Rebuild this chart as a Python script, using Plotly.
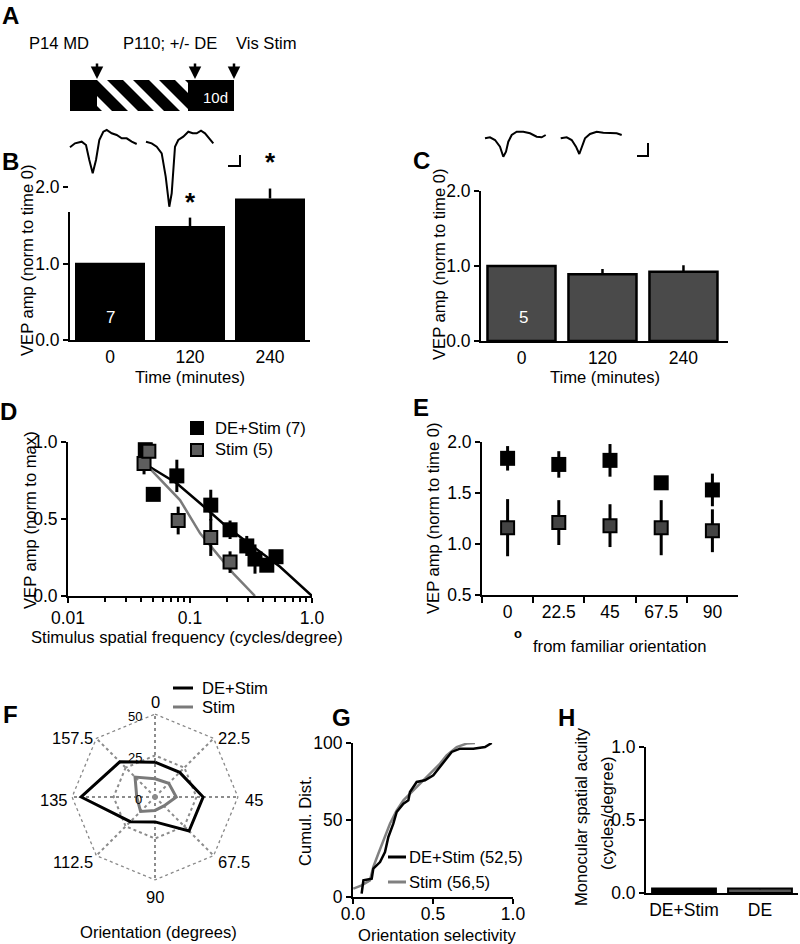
import plotly.graph_objects as go

W, H = 800, 944


def fx(p):
    return p / W


def fy(p):
    return 1 - p / H


# ---- data ----
TIME_LABELS = ["0", "120", "240"]
B_VEP = [1.01, 1.49, 1.85]
B_SEM = [0.0, 0.11, 0.13]
C_VEP = [1.0, 0.89, 0.925]
C_SEM = [0.0, 0.07, 0.085]

# example VEP traces (t in px-units from trace start, amplitude positive up)
B_WAVE1_T = [2, 7, 13.7, 18, 21.3, 24.7, 28, 31.3, 35.3, 38.7, 43.7, 48.7, 53.7, 58.7, 63.7, 68.7]
B_WAVE1_V = [-4.3, -0.3, 1.3, -2, -17, -30.3, -17, 3, 11.3, 13, 9.7, 8, 4.7, 4.7, 1.3, -1]
B_WAVE2_T = [78, 83.7, 88.7, 93.7, 97.7, 101.3, 103.7, 107, 110.3, 115.3, 120.3, 124.7, 128.7, 133, 137, 141.3, 145.3]
B_WAVE2_V = [1.3, -0.3, -3.7, -10.3, -33.7, -63.7, -50.3, -3.7, 3, 6.3, 11.3, 9.7, 9.7, 12.3, 9.7, 4.7, -0.3]
C_WAVE1_T = [2, 7, 12, 17, 20.3, 23, 25.3, 28.7, 33.7, 40.3, 47, 53.7, 58.7, 62.7]
C_WAVE1_V = [0, 1, -1.7, -8.4, -18.4, -13.4, -3.4, 3.3, 6.6, 6.6, 5, 1.6, 1, 3.3]
C_WAVE2_T = [77.7, 83.7, 88.7, 93, 96.3, 99.3, 102, 107, 113.7, 120.3, 127, 133.7, 138.7]
C_WAVE2_V = [0, 1, -1.7, -8.4, -15.7, -8.4, 0, 4.3, 6.6, 5.6, 5, 5, 3.3]

# D: spatial frequency tuning
SF_DE = [0.043, 0.050, 0.078, 0.148, 0.213, 0.292, 0.341, 0.426, 0.507]
VEP_DE = [0.95, 0.66, 0.78, 0.59, 0.43, 0.325, 0.24, 0.20, 0.255]
ERR_DE = [0.02, 0.03, 0.105, 0.10, 0.06, 0.065, 0.095, 0.04, 0.03]
SF_ST = [0.042, 0.046, 0.080, 0.148, 0.213]
VEP_ST = [0.86, 0.94, 0.49, 0.38, 0.22]
ERR_ST = [0.07, 0.02, 0.09, 0.12, 0.07]
FIT_DE_X = [0.0442, 0.0778, 0.121, 0.200, 0.330, 0.547, 1.0]
FIT_DE_Y = [0.851, 0.732, 0.602, 0.45, 0.320, 0.190, 0.0]
FIT_ST_X = [0.0414, 0.0828, 0.121, 0.226, 0.341]
FIT_ST_Y = [0.872, 0.623, 0.407, 0.147, 0.0]
SF_TICKS = [0.01, 0.1, 1.0]
SF_TICKTEXT = ["0.01", "0.1", "1.0"]
SF_MINOR = [0.02, 0.03, 0.04, 0.05, 0.06, 0.07, 0.08, 0.09,
            0.2, 0.3, 0.4, 0.5, 0.6, 0.7, 0.8, 0.9]

# E: orientation specificity
ORI_E = ["0", "22.5", "45", "67.5", "90"]
E_DE = [1.84, 1.78, 1.82, 1.60, 1.53]
E_DE_ERR = [0.12, 0.13, 0.16, 0.04, 0.16]
E_ST = [1.16, 1.21, 1.18, 1.16, 1.13]
E_ST_ERR = [0.28, 0.22, 0.21, 0.27, 0.21]

# F: polar orientation tuning
ORI_F = ["0", "22.5", "45", "67.5", "90", "112.5", "135", "157.5"]
F_DE = [21, 21, 29, 29, 15, 21, 44.5, 30]
F_ST = [11, 11.7, 12.8, 7.6, 8.1, 12.3, 11, 17]
F_RTICKS = [0, 25, 50]

# G: cumulative distribution of orientation selectivity
G_DE_X = [0.054, 0.065, 0.117, 0.127, 0.169, 0.2, 0.221, 0.252, 0.273, 0.315, 0.346, 0.356,
          0.398, 0.45, 0.502, 0.544, 0.585, 0.617, 0.669, 0.752, 0.825, 0.867]
G_DE_Y = [2.2, 10.8, 11.9, 18.4, 22.7, 29.2, 39, 47.6, 55.2, 60.6, 62.8, 68.2,
          74.7, 75.8, 79, 84.4, 89.8, 94.2, 96.3, 96.3, 97.4, 100]
G_ST_X = [0.002, 0.054, 0.106, 0.127, 0.158, 0.19, 0.231, 0.273, 0.315, 0.377, 0.44,
          0.502, 0.544, 0.585, 0.648, 0.71, 0.762]
G_ST_Y = [5.4, 7.6, 10.8, 19.5, 28.1, 36.8, 47.6, 56.3, 62.8, 69.3, 75.8,
          82.3, 86.6, 92, 97.4, 99.6, 100]

# H: monocular acuity
H_GROUPS = ["DE+Stim", "DE"]
H_ACUITY = [0.03, 0.03]
H_SEM = [0.004, 0.004]

BLACK = "black"
DARK = "#4a4a4a"
GREY_M = "#5e5e5e"
GREY_L = "#7a7a7a"
GRID = "#8c8c8c"

TICKFONT = dict(size=17.5, color="black")
TITLE = 16.6
AX = dict(showline=True, linecolor="black", linewidth=2, ticks="outside", ticklen=5,
          tickwidth=2, tickcolor="black", showgrid=False, zeroline=False,
          tickfont=TICKFONT, fixedrange=True)

fig = go.Figure()

# B bars
fig.add_trace(go.Bar(x=TIME_LABELS, y=B_VEP, width=0.875, marker=dict(color=BLACK, line=dict(width=0)),
                     error_y=dict(type="data", array=B_SEM, arrayminus=[0, 0, 0], symmetric=False,
                                  color=BLACK, thickness=2.5, width=0),
                     xaxis="x", yaxis="y"))
# C bars
fig.add_trace(go.Bar(x=TIME_LABELS, y=C_VEP, width=0.84, marker=dict(color=DARK, line=dict(color=BLACK, width=2.5)),
                     error_y=dict(type="data", array=C_SEM, arrayminus=[0, 0, 0], symmetric=False,
                                  color=BLACK, thickness=2.5, width=0),
                     xaxis="x2", yaxis="y2"))

# D
fig.add_trace(go.Scatter(x=FIT_DE_X, y=FIT_DE_Y, mode="lines", line=dict(color=BLACK, width=2.5),
                         xaxis="x3", yaxis="y3"))
fig.add_trace(go.Scatter(x=FIT_ST_X, y=FIT_ST_Y, mode="lines", line=dict(color=GREY_L, width=2.5),
                         xaxis="x3", yaxis="y3"))
fig.add_trace(go.Scatter(x=SF_DE, y=VEP_DE, mode="markers",
                         marker=dict(symbol="square", size=15, color=BLACK),
                         error_y=dict(type="data", array=ERR_DE, color=BLACK, thickness=3, width=0),
                         xaxis="x3", yaxis="y3"))
fig.add_trace(go.Scatter(x=SF_ST, y=VEP_ST, mode="markers",
                         marker=dict(symbol="square", size=13, color=GREY_M, line=dict(color=BLACK, width=2)),
                         error_y=dict(type="data", array=ERR_ST, color=BLACK, thickness=3, width=0),
                         xaxis="x3", yaxis="y3"))

# E
fig.add_trace(go.Scatter(x=ORI_E, y=E_DE, mode="markers",
                         marker=dict(symbol="square", size=15, color=BLACK),
                         error_y=dict(type="data", array=E_DE_ERR, color=BLACK, thickness=3, width=0),
                         xaxis="x4", yaxis="y4"))
fig.add_trace(go.Scatter(x=ORI_E, y=E_ST, mode="markers",
                         marker=dict(symbol="square", size=13, color="#444444", line=dict(color=BLACK, width=2)),
                         error_y=dict(type="data", array=E_ST_ERR, color=BLACK, thickness=3, width=0),
                         xaxis="x4", yaxis="y4"))

# F polar: outer dotted ring at r = 50, then the two tuning polygons
fig.add_trace(go.Scatterpolar(r=[F_RTICKS[-1]] * (len(ORI_F) + 1), theta=ORI_F + ORI_F[:1], mode="lines",
                              line=dict(color=GRID, width=1.5, dash="dot"), subplot="polar"))
fig.add_trace(go.Scatterpolar(r=F_DE + F_DE[:1], theta=ORI_F + ORI_F[:1], mode="lines",
                              line=dict(color=BLACK, width=3), subplot="polar"))
fig.add_trace(go.Scatterpolar(r=F_ST + F_ST[:1], theta=ORI_F + ORI_F[:1], mode="lines",
                              line=dict(color=GREY_L, width=3), subplot="polar"))

# G
fig.add_trace(go.Scatter(x=G_ST_X, y=G_ST_Y, mode="lines", line=dict(color="#808080", width=2.5),
                         xaxis="x5", yaxis="y5"))
fig.add_trace(go.Scatter(x=G_DE_X, y=G_DE_Y, mode="lines", line=dict(color=BLACK, width=2.5),
                         xaxis="x5", yaxis="y5"))

# H
fig.add_trace(go.Bar(x=H_GROUPS, y=H_ACUITY, width=0.84,
                     marker=dict(color=[BLACK, "#555555"], line=dict(color=BLACK, width=2)),
                     error_y=dict(type="data", array=H_SEM, color=BLACK, thickness=2, width=0),
                     xaxis="x6", yaxis="y6"))

# example traces
for t, v in [(B_WAVE1_T, B_WAVE1_V), (B_WAVE2_T, B_WAVE2_V)]:
    fig.add_trace(go.Scatter(x=t, y=v, mode="lines", line=dict(color=BLACK, width=2),
                             xaxis="x7", yaxis="y7"))
for t, v in [(C_WAVE1_T, C_WAVE1_V), (C_WAVE2_T, C_WAVE2_V)]:
    fig.add_trace(go.Scatter(x=t, y=v, mode="lines", line=dict(color=BLACK, width=2),
                             xaxis="x8", yaxis="y8"))

R_MAX = 50.5
F_CX, F_CY, F_R50 = 155, 797, 83
F_RAD = F_R50 * R_MAX / 50

layout = dict(
    width=W, height=H, margin=dict(l=0, r=0, t=0, b=0, autoexpand=False),
    paper_bgcolor="white", plot_bgcolor="white", showlegend=False,
    font=dict(family="Liberation Sans, Arial, Helvetica, sans-serif", color="black", size=16),
    bargap=0.1,
    xaxis=dict(AX, domain=[fx(70), fx(310)], range=[-0.5, 2.5], ticks="", anchor="y"),
    yaxis=dict(AX, domain=[fy(340), fy(187)], range=[0, 2], tickvals=[0, 1, 2],
               ticktext=["0.0", "1.0", "2.0"], anchor="x"),
    xaxis2=dict(AX, domain=[fx(481), fx(728)], range=[-0.5, 2.55], ticks="", anchor="y2"),
    yaxis2=dict(AX, domain=[fy(341), fy(191)], range=[0, 2], tickvals=[0, 1, 2],
                ticktext=["0.0", "1.0", "2.0"], anchor="x2"),
    xaxis3=dict(AX, type="log", domain=[fx(68), fx(312)], range=[-2, 0], tickvals=SF_TICKS,
                ticktext=SF_TICKTEXT, anchor="y3",
                minor=dict(tickvals=SF_MINOR, ticks="outside", ticklen=4, tickwidth=1.5, tickcolor="black")),
    yaxis3=dict(AX, domain=[fy(596), fy(442)], range=[0, 1], tickvals=[0, 0.5, 1],
                ticktext=["0.0", "0.5", "1.0"], anchor="x3"),
    xaxis4=dict(AX, type="category", categoryarray=ORI_E, domain=[fx(482), fx(738)],
                range=[-0.5, 4.5], tickson="boundaries", ticklen=6, anchor="y4"),
    yaxis4=dict(AX, domain=[fy(595), fy(442)], range=[0.5, 2.0], tickvals=[0.5, 1, 1.5, 2],
                ticktext=["0.5", "1.0", "1.5", "2.0"], anchor="x4"),
    xaxis5=dict(AX, domain=[fx(353), fx(513)], range=[0, 1], tickvals=[0, 0.5, 1],
                ticktext=["0.0", "0.5", "1.0"], ticklabelstandoff=-5, anchor="y5"),
    yaxis5=dict(AX, domain=[fy(897), fy(743)], range=[0, 100], tickvals=[0, 50, 100], anchor="x5"),
    xaxis6=dict(AX, domain=[fx(646), fx(798)], range=[-0.5, 1.5], ticks="", anchor="y6"),
    yaxis6=dict(AX, domain=[fy(893), fy(747)], range=[0, 1], tickvals=[0, 0.5, 1],
                ticktext=["0.0", "0.5", "1.0"], anchor="x6"),
    xaxis7=dict(visible=False, domain=[fx(68), fx(216)], range=[0, 148], anchor="y7", fixedrange=True),
    yaxis7=dict(visible=False, domain=[fy(212), fy(125)], range=[-69, 18], anchor="x7", fixedrange=True),
    xaxis8=dict(visible=False, domain=[fx(483), fx(625)], range=[0, 142], anchor="y8", fixedrange=True),
    yaxis8=dict(visible=False, domain=[fy(160), fy(125)], range=[-21.7, 13.3], anchor="x8", fixedrange=True),
    polar=dict(
        domain=dict(x=[fx(F_CX - F_RAD), fx(F_CX + F_RAD)], y=[fy(F_CY + F_RAD), fy(F_CY - F_RAD)]),
        gridshape="linear", bgcolor="white",
        radialaxis=dict(range=[0, R_MAX], tickvals=F_RTICKS, angle=90, showline=False,
                        showticklabels=False, ticks="", gridcolor=GRID, griddash="dot", gridwidth=1.5),
        angularaxis=dict(type="category", categoryarray=ORI_F, direction="clockwise", rotation=90,
                         showline=False, showticklabels=False, ticks="", gridcolor=GRID,
                         griddash="dot", gridwidth=1.5),
    ),
)


def txt(x, y, s, size=TITLE, color="black", bold=False, anchor="center", angle=0):
    if bold:
        s = "<b>" + s + "</b>"
    return dict(x=fx(x), y=fy(y), xref="paper", yref="paper", text=s, showarrow=False,
                xanchor=anchor, yanchor="middle", textangle=angle,
                font=dict(size=size, color=color))


ann = [
    # panel letters
    txt(10, 16, "A", 24, bold=True), txt(10, 161, "B", 24, bold=True),
    txt(421, 160, "C", 24, bold=True), txt(8, 412, "D", 24, bold=True),
    txt(421, 407, "E", 24, bold=True), txt(10, 714, "F", 24, bold=True),
    txt(341, 717, "G", 24, bold=True), txt(566, 717, "H", 24, bold=True),
    # A schematic labels
    txt(59, 43, "P14 MD"), txt(170, 43, "P110; +/- DE"), txt(266, 43, "Vis Stim"),
    txt(215, 97, "10d", 15, color="white"),
    # B
    txt(28, 260, "VEP amp (norm to time 0)", angle=-90),
    txt(190, 378, "Time (minutes)"),
    txt(110, 317, "7", 17, color="white"),
    txt(190, 202, "*", 26, bold=True), txt(270, 162, "*", 26, bold=True),
    # C
    txt(440, 264, "VEP amp (norm to time 0)", angle=-90),
    txt(605, 378, "Time (minutes)"),
    txt(523, 317, "5", 17, color="white"),
    # D
    txt(30, 520, "VEP amp (norm to max)", angle=-90),
    txt(187, 637, "Stimulus spatial frequency (cycles/degree)"),
    txt(213, 428, "DE+Stim (7)", anchor="left"), txt(213, 450, "Stim (5)", anchor="left"),
    # E
    txt(433, 518, "VEP amp (norm to time 0)", angle=-90),
    txt(518, 633, "o", 13, bold=True),
    txt(531, 646, "from familiar orientation", anchor="left"),
    # F
    txt(158, 932, "Orientation (degrees)"),
    txt(200, 688, "DE+Stim", anchor="left"), txt(200, 707, "Stim", anchor="left"),
    # G
    txt(305, 821, "Cumul. Dist.", angle=-90),
    txt(437, 935, "Orientation selectivity"),
    txt(407, 857, "DE+Stim (52,5)", anchor="left"), txt(407, 882, "Stim (56,5)", anchor="left"),
    # H
    txt(581, 817, "Monocular spatial acuity", angle=-90),
    txt(607, 814, "(cycles/degree)", angle=-90),
]

# angular labels of the polar panel, set just outside the octagon
F_LABEL_POS = [(155, 702), (234, 738), (254, 800), (234, 862),
               (155, 897), (73, 862), (54, 800), (72, 738)]
for lab, (lx, ly) in zip(ORI_F, F_LABEL_POS):
    ann.append(txt(lx, ly, lab, 16.5))

# radial tick labels, left of the upward spoke
for rv in F_RTICKS:
    ann.append(dict(x=fx(F_CX - 11), y=fy(F_CY - F_R50 * rv / 50 + 2), xref="paper", yref="paper",
                    text=str(rv), showarrow=False, xanchor="right", yanchor="middle",
                    font=dict(size=13, color="black")))

# arrows in the schematic
for ax_x in [97, 195, 234]:
    ann.append(dict(x=fx(ax_x), y=fy(79), xref="paper", yref="paper", text="", showarrow=True,
                    ax=0, ay=-17, arrowhead=2, arrowsize=1, arrowwidth=2.5, arrowcolor="black"))


def line(x0, y0, x1, y1, color="black", width=2):
    return dict(type="line", xref="paper", yref="paper", x0=fx(x0), y0=fy(y0), x1=fx(x1), y1=fy(y1),
                line=dict(color=color, width=width))


def rect(x0, y0, x1, y1, fill, lc=None, lw=0):
    return dict(type="rect", xref="paper", yref="paper", x0=fx(x0), y0=fy(y0), x1=fx(x1), y1=fy(y1),
                fillcolor=fill, line=dict(color=lc or fill, width=lw))


shapes = [rect(70, 80, 234, 111, "black")]
for k in range(5):
    x0 = 71 + 26 * k
    pts = [(x0, 80), (x0 + 10, 80), (x0 + 41, 111), (x0 + 31, 111)]
    path = "M " + " L ".join(f"{fx(a):.5f},{fy(b):.5f}" for a, b in pts) + " Z"
    shapes.append(dict(type="path", xref="paper", yref="paper", path=path, fillcolor="white",
                       line=dict(width=0)))
shapes += [rect(70, 80, 97, 111, "black"), rect(188, 80, 234, 111, "black")]

# scale bars
shapes += [line(240, 155, 240, 167), line(228, 166, 241, 166),
           line(648, 143, 648, 157), line(637, 156, 649, 156)]

# legend symbols
shapes += [rect(190, 421, 204, 435, "black"),
           rect(191, 444, 203, 456, GREY_M, "black", 2),
           line(173, 688, 193, 688, "black", 3), line(173, 707, 193, 707, GREY_L, 3),
           line(388, 857, 406, 857, "black", 3), line(388, 882, 406, 882, "#808080", 3)]

layout["annotations"] = ann
layout["shapes"] = shapes
fig.update_layout(**layout)

# the page body's default 8px margin would push the figure off the 800x944 window
fig.write_html("out.html", config={"displayModeBar": False},
               post_script="document.body.style.margin = '0';")
